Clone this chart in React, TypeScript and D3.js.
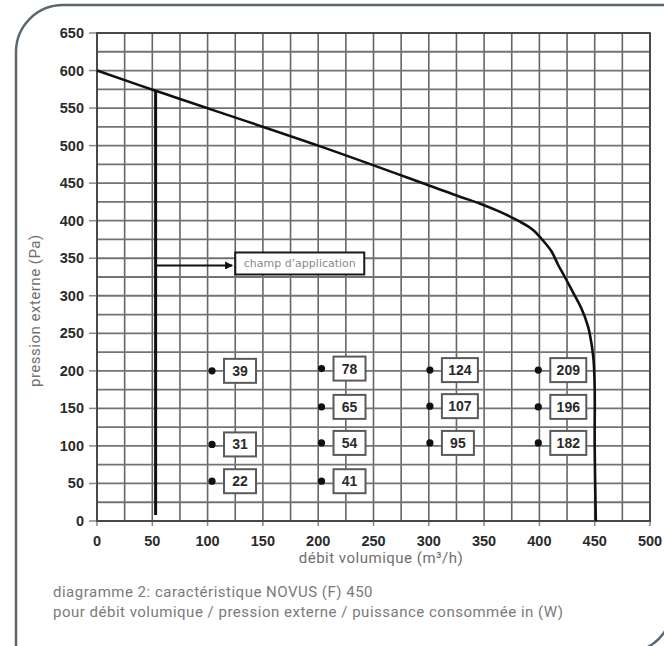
import React, { useEffect, useRef } from 'react';
import * as d3 from 'd3';

// fan curve: débit (m³/h) vs pression externe (Pa)
const curveFlow = [0, 53, 200, 300, 328, 346, 364, 382, 394, 403, 411, 417, 423, 431, 438, 444, 447, 449, 450, 450, 451];
const curvePressure = [600, 573, 500, 447, 432, 423, 412, 399, 388, 374, 359, 341, 325, 303, 283, 259, 237, 214, 175, 100, 0];

// operating points with power draw (W)
const pointFlow = [104, 104, 104, 203, 203, 203, 203, 301, 301, 301, 399, 399, 399];
const pointPressure = [200, 102, 53, 203, 152, 104, 53, 201, 153, 104, 201, 152, 104];
const pointPower = [39, 31, 22, 78, 65, 54, 41, 124, 107, 95, 209, 196, 182];

const xTicks = [0, 50, 100, 150, 200, 250, 300, 350, 400, 450, 500];
const yTicks = [0, 50, 100, 150, 200, 250, 300, 350, 400, 450, 500, 550, 600, 650];

const minFlow = 53;
const fieldLabel = { flow: 125, pressure: 343, text: 'champ d’application' };

const App: React.FC = () => {
    const ref = useRef<SVGSVGElement | null>(null);

    useEffect(() => {
        if (!ref.current) return;
        const svg = d3.select(ref.current);
        svg.selectAll('*').remove();

        const width = 664;
        const height = 646;
        svg.attr('width', width).attr('height', height);

        const x = d3.scaleLinear().domain([0, 500]).range([97, 650]);
        const y = d3.scaleLinear().domain([0, 650]).range([521, 33]);

        // outer frame, rounded top-left and bottom-right
        svg.append('path')
            .attr('d', 'M16,660 L16,52 A47,47 0 0 1 63,5 L670,5')
            .attr('fill', 'none')
            .attr('stroke', '#5b6770')
            .attr('stroke-width', 2.5);
        svg.append('path')
            .attr('d', 'M600,652 L627,652 A45,45 0 0 0 672,607')
            .attr('fill', 'none')
            .attr('stroke', '#5b6770')
            .attr('stroke-width', 2.5);

        const grid = svg.append('g');
        const gridX = d3.range(0, 501, 25);
        const gridY = d3.range(0, 651, 25);
        grid.selectAll('line.gx')
            .data(gridX)
            .enter().append('line')
            .attr('x1', d => x(d)).attr('x2', d => x(d))
            .attr('y1', y(0)).attr('y2', y(650))
            .attr('stroke', '#666')
            .attr('stroke-width', 1.6);
        grid.selectAll('line.gy')
            .data(gridY)
            .enter().append('line')
            .attr('y1', d => y(d)).attr('y2', d => y(d))
            .attr('x1', x(0)).attr('x2', x(500))
            .attr('stroke', '#737373')
            .attr('stroke-width', 1.8);

        // ticks
        grid.selectAll('line.ty')
            .data(yTicks)
            .enter().append('line')
            .attr('x1', x(0) - 8).attr('x2', x(0))
            .attr('y1', d => y(d)).attr('y2', d => y(d))
            .attr('stroke', '#888')
            .attr('stroke-width', 1.5);
        grid.selectAll('line.tx')
            .data(xTicks)
            .enter().append('line')
            .attr('x1', d => x(d)).attr('x2', d => x(d))
            .attr('y1', y(0)).attr('y2', y(0) + 5)
            .attr('stroke', '#888')
            .attr('stroke-width', 1.5);

        // plot border
        svg.append('rect')
            .attr('x', x(0)).attr('y', y(650))
            .attr('width', x(500) - x(0)).attr('height', y(0) - y(650))
            .attr('fill', 'none')
            .attr('stroke', '#444')
            .attr('stroke-width', 1.8);

        const tickFont = '"Liberation Sans", Arial, sans-serif';
        svg.selectAll('text.yl')
            .data(yTicks)
            .enter().append('text')
            .attr('x', 84)
            .attr('y', d => y(d) + 5)
            .attr('text-anchor', 'end')
            .style('font-family', tickFont)
            .style('font-weight', 'bold')
            .style('font-size', '14.5px')
            .style('fill', '#2a2a2a')
            .text(d => d);
        svg.selectAll('text.xl')
            .data(xTicks)
            .enter().append('text')
            .attr('x', d => x(d))
            .attr('y', 546)
            .attr('text-anchor', 'middle')
            .style('font-family', tickFont)
            .style('font-weight', 'bold')
            .style('font-size', '14.5px')
            .style('fill', '#2a2a2a')
            .text(d => d);

        const softFont = 'Roboto, "Noto Sans", sans-serif';
        const soft = (sel: d3.Selection<SVGTextElement, unknown, null, undefined>, fill: string) =>
            sel.style('font-family', softFont)
                .style('font-size', '15px')
                .style('letter-spacing', '0.5px')
                .style('fill', fill);

        soft(svg.append('text')
            .attr('transform', 'translate(40,387) rotate(-90)')
            .attr('text-anchor', 'start'), '#6f6f6f')
            .text('pression externe (Pa)');
        soft(svg.append('text')
            .attr('x', 381)
            .attr('y', 563)
            .attr('text-anchor', 'middle'), '#6f6f6f')
            .text('débit volumique (m³/h)');
        soft(svg.append('text')
            .attr('x', 53)
            .attr('y', 597), '#7a7a7a')
            .text('diagramme 2: caractéristique NOVUS (F) 450');
        soft(svg.append('text')
            .attr('x', 53)
            .attr('y', 617), '#7a7a7a')
            .text('pour débit volumique / pression externe / puissance consommée in (W)');

        // characteristic curve
        const pts: [number, number][] = curveFlow.map((f, i) => [f, curvePressure[i]]);
        const line = d3.line<[number, number]>()
            .x(d => x(d[0]))
            .y(d => y(d[1]))
            .curve(d3.curveCatmullRom.alpha(0.5));
        svg.append('path')
            .attr('d', line(pts))
            .attr('fill', 'none')
            .attr('stroke', '#111')
            .attr('stroke-width', 2.6);

        // minimum flow boundary
        const minP = d3.scaleLinear().domain([0, 200]).range([600, 500])(minFlow);
        svg.append('line')
            .attr('x1', x(minFlow)).attr('x2', x(minFlow))
            .attr('y1', y(minP)).attr('y2', y(0) - 6)
            .attr('stroke', '#111')
            .attr('stroke-width', 3);

        // application field label with arrow
        const boxX = x(fieldLabel.flow);
        const boxY = y(fieldLabel.pressure);
        const defs = svg.append('defs');
        defs.append('marker')
            .attr('id', 'arr')
            .attr('viewBox', '0 0 10 10')
            .attr('refX', 9).attr('refY', 5)
            .attr('markerWidth', 4).attr('markerHeight', 4)
            .attr('orient', 'auto')
            .append('path')
            .attr('d', 'M0,0 L10,5 L0,10 z')
            .attr('fill', '#111');
        svg.append('line')
            .attr('x1', x(minFlow) + 1).attr('x2', boxX - 3)
            .attr('y1', boxY + 2).attr('y2', boxY + 2)
            .attr('stroke', '#111')
            .attr('stroke-width', 2)
            .attr('marker-end', 'url(#arr)');
        svg.append('rect')
            .attr('x', boxX).attr('y', boxY - 11)
            .attr('width', 129).attr('height', 22)
            .attr('fill', '#fff')
            .attr('stroke', '#1a1a1a')
            .attr('stroke-width', 2);
        svg.append('text')
            .attr('x', boxX + 64.5)
            .attr('y', boxY + 4)
            .attr('text-anchor', 'middle')
            .style('font-family', '"DejaVu Sans", sans-serif')
            .style('font-size', '11px')
            .style('fill', '#8a8a8a')
            .text(fieldLabel.text);

        // operating points
        const pg = svg.append('g');
        pointPower.forEach((w, i) => {
            const cx = x(pointFlow[i]);
            const cy = y(pointPressure[i]);
            const bw = String(w).length > 2 ? 36 : 32;
            pg.append('circle')
                .attr('cx', cx).attr('cy', cy)
                .attr('r', 3.6)
                .attr('fill', '#111');
            pg.append('rect')
                .attr('x', cx + 12).attr('y', cy - 12)
                .attr('width', bw).attr('height', 24)
                .attr('fill', '#fff')
                .attr('stroke', '#5a5a5a')
                .attr('stroke-width', 2);
            pg.append('text')
                .attr('x', cx + 12 + bw / 2)
                .attr('y', cy + 5)
                .attr('text-anchor', 'middle')
                .style('font-family', tickFont)
                .style('font-weight', 'bold')
                .style('font-size', '14px')
                .style('fill', '#2a2a2a')
                .text(w);
        });
    }, []);

    return (
        <div style={{ position: 'absolute', left: 0, top: 0 }}>
            <svg ref={ref} style={{ display: 'block', background: '#fff' }}></svg>
        </div>
    );
};

export default App;
